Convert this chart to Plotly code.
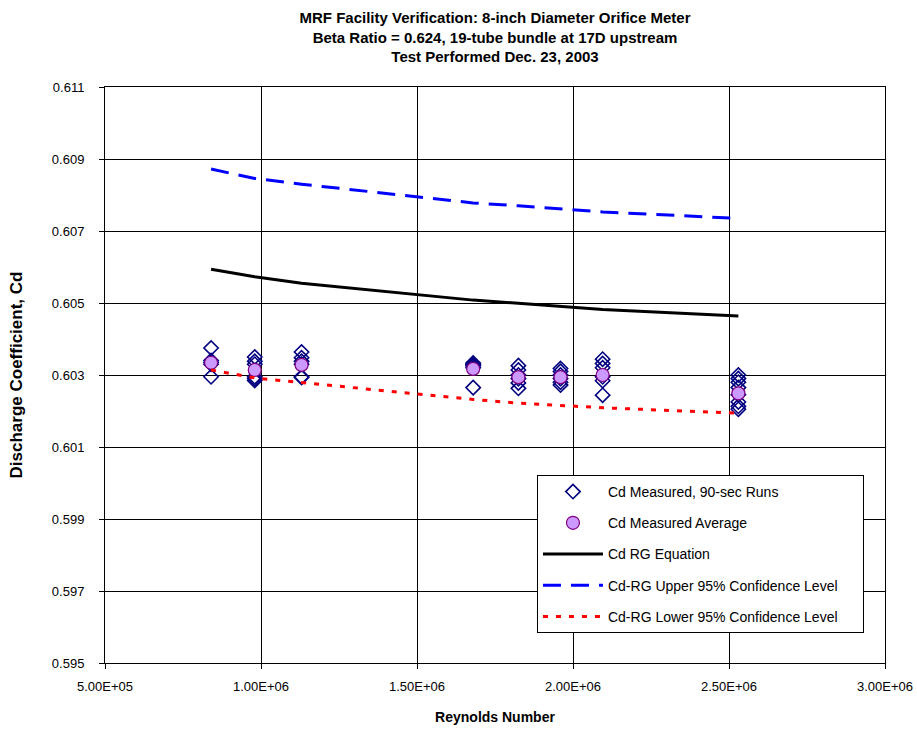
import plotly.graph_objects as go

# ---- data ----
re_points = [8.40e5, 9.80e5, 1.13e6, 1.68e6, 1.825e6, 1.96e6, 2.095e6, 2.53e6]

cd_runs = [
    [0.60375, 0.60340, 0.60335, 0.60330, 0.60295],
    [0.60350, 0.60338, 0.60330, 0.60295, 0.60290, 0.60285],
    [0.60364, 0.60348, 0.60338, 0.60330, 0.60295, 0.60293],
    [0.60333, 0.60330, 0.60328, 0.60325, 0.60320, 0.60265],
    [0.60326, 0.60314, 0.60300, 0.60290, 0.60278, 0.60263],
    [0.60318, 0.60310, 0.60300, 0.60290, 0.60280, 0.60272],
    [0.60344, 0.60332, 0.60320, 0.60295, 0.60284, 0.60244],
    [0.60300, 0.60290, 0.60280, 0.60265, 0.60245, 0.60225, 0.60213, 0.60205],
]
cd_avg = [0.60334, 0.60314, 0.60328, 0.60317, 0.60294, 0.60294, 0.60300, 0.60249]
cd_rg = [0.60594, 0.60573, 0.60555, 0.60508, 0.60499, 0.60490, 0.60482, 0.60464]
cd_upper = [0.60872, 0.60846, 0.60830, 0.60778, 0.60770, 0.60761, 0.60753, 0.60735]
cd_lower = [0.60314, 0.60292, 0.60279, 0.60232, 0.60222, 0.60215, 0.60209, 0.60194]

x_tickvals = [5e5, 1e6, 1.5e6, 2e6, 2.5e6, 3e6]
x_ticktext = ["5.00E+05", "1.00E+06", "1.50E+06", "2.00E+06", "2.50E+06", "3.00E+06"]
y_tickvals = [0.595, 0.597, 0.599, 0.601, 0.603, 0.605, 0.607, 0.609, 0.611]
y_ticktext = ["0.595", "0.597", "0.599", "0.601", "0.603", "0.605", "0.607", "0.609", "0.611"]

# ---- build ----
run_x = [re for re, runs in zip(re_points, cd_runs) for _ in runs]
run_y = [v for runs in cd_runs for v in runs]

FONT = "Liberation Sans, Arial, sans-serif"
PAD = "\u00a0" * 5  # right padding inside the legend box

fig = go.Figure()
fig.add_trace(go.Scatter(
    x=run_x, y=run_y, mode="markers", name="Cd Measured, 90-sec Runs",
    legendgroup="a",
    marker=dict(symbol="diamond-open", size=11, color="#000080", line=dict(width=1.6, color="#000080")),
))
fig.add_trace(go.Scatter(
    x=re_points, y=cd_avg, mode="markers", name="Cd Measured Average",
    legendgroup="b",
    marker=dict(symbol="circle", size=13, color="#CC99FF", line=dict(width=1.2, color="#800080")),
))
fig.add_trace(go.Scatter(
    x=re_points, y=cd_rg, mode="lines", name="Cd RG Equation",
    legendgroup="c",
    line=dict(color="black", width=3),
))
fig.add_trace(go.Scatter(
    x=re_points, y=cd_upper, mode="lines", name="Cd-RG Upper 95% Confidence Level" + PAD,
    legendgroup="d",
    line=dict(color="#0000FF", width=3, dash="18px,10px"),
))
fig.add_trace(go.Scatter(
    x=re_points, y=cd_lower, mode="lines", name="Cd-RG Lower 95% Confidence Level" + PAD,
    legendgroup="e",
    line=dict(color="#FF0000", width=3, dash="5px,8px"),
))

fig.update_layout(
    width=917, height=729,
    margin=dict(l=105, r=32, t=87, b=66, autoexpand=False),
    paper_bgcolor="white", plot_bgcolor="white",
    font=dict(family=FONT, size=13, color="black"),
    title=dict(
        text="<b>MRF Facility Verification: 8-inch Diameter Orifice Meter<br>"
             "Beta Ratio = 0.624, 19-tube bundle at 17D upstream<br>"
             "Test Performed Dec. 23, 2003</b>",
        x=0.5, xref="paper", xanchor="center",
        y=0.9684, yref="container", yanchor="top",
        font=dict(family=FONT, size=15, color="black"),
    ),
    showlegend=True,
    legend=dict(
        x=0.5538, y=0.3264, xanchor="left", yanchor="top",
        bgcolor="white", bordercolor="black", borderwidth=1,
        font=dict(family=FONT, size=14, color="black"),
        tracegroupgap=10, itemwidth=60,
    ),
)
fig.update_xaxes(
    range=[5e5, 3e6], tickvals=x_tickvals, ticktext=x_ticktext,
    showgrid=True, gridcolor="black", gridwidth=1,
    showline=True, linecolor="black", linewidth=1, mirror=True,
    ticks="outside", ticklen=5, tickcolor="black",
    zeroline=False, ticklabelstandoff=6, ticklabeloverflow="allow",
    automargin=False,
    title=dict(text="<b>Reynolds Number</b>", font=dict(family=FONT, size=14), standoff=19),
    tickfont=dict(family=FONT, size=13),
)
fig.update_yaxes(
    range=[0.595, 0.611], tickvals=y_tickvals, ticktext=y_ticktext,
    showgrid=True, gridcolor="black", gridwidth=1,
    showline=True, linecolor="black", linewidth=1, mirror=True,
    ticks="outside", ticklen=5, tickcolor="black",
    zeroline=False, ticklabelstandoff=12,
    automargin=False,
    title=dict(text="<b>Discharge Coefficient, Cd</b>", font=dict(family=FONT, size=17), standoff=24),
    tickfont=dict(family=FONT, size=13),
)

# remove the page's default 8px body margin so the 917x729 figure fills the window exactly
fig.write_html("out.html", config={"displayModeBar": False},
               post_script="document.body.style.margin='0px';")
